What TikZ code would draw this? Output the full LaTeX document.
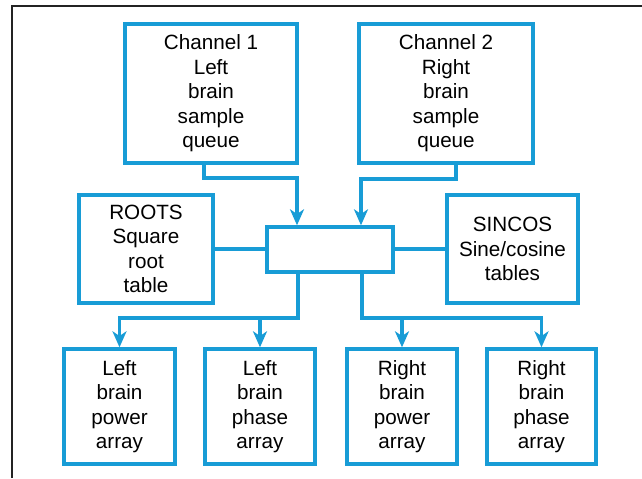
\documentclass[tikz,border=0pt]{standalone}
\usepackage{fontspec}
\setmainfont{Liberation Sans}
\usetikzlibrary{arrows.meta}
\definecolor{lineblue}{RGB}{24,156,214}
\definecolor{framegray}{RGB}{35,35,35}
\tikzset{
  box/.style={draw=lineblue, line width=2.5pt, align=center, inner sep=0pt,
    font=\fontsize{15.5}{18.4}\selectfont, text=black},
  conn/.style={draw=lineblue, line width=2.5pt},
  arr/.style={conn, -{Stealth[length=12pt,width=10.5pt,inset=3.5pt]}},
  frameline/.style={draw=framegray, line width=1.8pt}
}
\begin{document}
\begin{tikzpicture}[x=0.75pt,y=-0.75pt]
\useasboundingbox (0,0) rectangle (642,478);
\draw[frameline] (12,478) -- (12,6) -- (642,6);

\node[box, minimum width=129pt, minimum height=104.25pt] (ch1) at (211,93.5)
  {Channel 1\\Left\\brain\\sample\\queue};
\node[box, minimum width=130.5pt, minimum height=104.25pt] (ch2) at (446,93.5)
  {Channel 2\\Right\\brain\\sample\\queue};
\node[box, minimum width=100.5pt, minimum height=81pt] (roots) at (146,249)
  {ROOTS\\Square\\root\\table};
\node[box, minimum width=98.25pt, minimum height=81pt] (sincos) at (512.5,249)
  {SINCOS\\Sine/cosine\\tables};
\node[box, minimum width=94.5pt, minimum height=33.75pt] (mid) at (330,249.5) {};

\node[box, minimum width=83.25pt, minimum height=86.25pt] (out1) at (119.5,406.5)
  {Left\\brain\\power\\array};
\node[box, minimum width=82.5pt, minimum height=86.25pt] (out2) at (260,406.5)
  {Left\\brain\\phase\\array};
\node[box, minimum width=82.5pt, minimum height=86.25pt] (out3) at (402,406.5)
  {Right\\brain\\power\\array};
\node[box, minimum width=81.75pt, minimum height=86.25pt] (out4) at (541.5,406.5)
  {Right\\brain\\phase\\array};

\coordinate (a1) at (204,178);
\coordinate (a2) at (297,178);
\coordinate (c1) at (456,179);
\coordinate (c2) at (361,179);
\coordinate (b1) at (298,318);
\coordinate (b2) at (362,318);

\draw[arr] (ch1.south -| a1) |- (a2) -- (mid.north -| a2);
\draw[arr] (ch2.south -| c1) |- (c2) -- (mid.north -| c2);
\draw[conn] (roots.east) -- (roots.east -| mid.west);
\draw[conn] (sincos.west) -- (sincos.west -| mid.east);

\draw[arr] (mid.south -| b1) -- (b1) -| (out1.north);
\draw[arr] (b1 -| out2) -- (out2.north);
\draw[arr] (mid.south -| b2) -- (b2) -| (out4.north);
\draw[arr] (b2 -| out3) -- (out3.north);
\end{tikzpicture}
\end{document}
